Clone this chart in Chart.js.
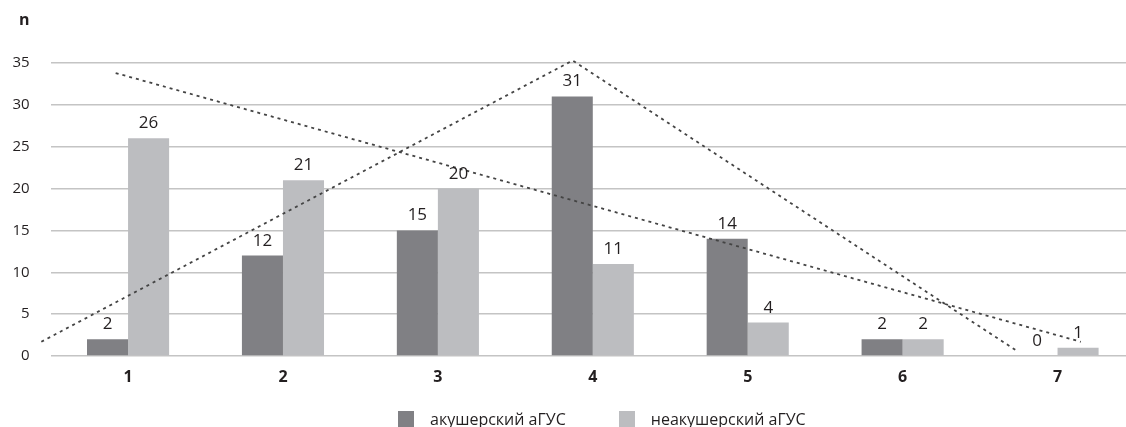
<!DOCTYPE html>
<html lang="ru">
<head>
  <meta charset="UTF-8">
  <title>аГУС</title>
  <script src="https://cdn.jsdelivr.net/npm/chart.js"></script>
  <style>
    html, body { margin: 0; padding: 0; overflow: hidden; background: #fff; }
    body { font-family: "Open Sans", sans-serif; color: #231f20; }
    .wrap { position: relative; width: 1140px; height: 427px; }
    .ylabel { position: absolute; left: 19px; top: 8px; font-weight: bold; font-size: 16px; }
    .legend { position: absolute; top: 411px; left: 398px; display: flex; font-size: 16px; line-height: 16px; }
    .legend span { display: flex; align-items: center; margin-right: 53px; }
    .legend i { display: inline-block; width: 16px; height: 16px; margin-right: 16px; }
  </style>
</head>
<body>
  <div class="wrap">
    <canvas id="chart" width="1140" height="427"></canvas>
    <div class="ylabel">n</div>
    <div class="legend" id="legend"></div>
  </div>

  <script>
    const categories = ['1', '2', '3', '4', '5', '6', '7'];
    const obstetric = [2, 12, 15, 31, 14, 2, 0];
    const nonObstetric = [26, 21, 20, 11, 4, 2, 1];
    const seriesNames = ['акушерский аГУС', 'неакушерский аГУС'];

    // dotted trend lines, x in category units (1 = first category)
    const trendObstX = [0.44, 3.87, 6.73];
    const trendObstY = [1.7, 35.3, 0.7];
    const trendNonX = [0.92, 7.15];
    const trendNonY = [33.8, 1.7];

    const darkGrey = '#808084';
    const lightGrey = '#bcbdc0';
    const ink = '#231f20';

    // numbers above the bars
    const valueLabels = {
      id: 'valueLabels',
      afterDatasetsDraw(chart) {
        const ctx = chart.ctx;
        ctx.save();
        ctx.font = '17px "Open Sans"';
        ctx.fillStyle = ink;
        ctx.textAlign = 'center';
        ctx.textBaseline = 'alphabetic';
        chart.data.datasets.forEach((ds, i) => {
          chart.getDatasetMeta(i).data.forEach((bar, j) => {
            ctx.fillText(String(ds.data[j]), bar.x, bar.y - 10);
          });
        });
        ctx.restore();
      }
    };

    // dotted lines, placed with the hidden linear x scale and the y scale
    const trendLines = {
      id: 'trendLines',
      afterDatasetsDraw(chart) {
        const xs = chart.scales.xl, ys = chart.scales.y, ctx = chart.ctx;
        ctx.save();
        ctx.strokeStyle = '#444';
        ctx.lineWidth = 1.8;
        ctx.setLineDash([3, 4]);
        [[trendObstX, trendObstY], [trendNonX, trendNonY]].forEach(([px, py]) => {
          ctx.beginPath();
          px.forEach((v, i) => {
            const X = xs.getPixelForValue(v), Y = ys.getPixelForValue(py[i]);
            if (i === 0) ctx.moveTo(X, Y); else ctx.lineTo(X, Y);
          });
          ctx.stroke();
        });
        ctx.restore();
      }
    };

    new Chart(document.getElementById('chart'), {
      type: 'bar',
      data: {
        labels: categories,
        datasets: [
          { label: seriesNames[0], data: obstetric, backgroundColor: darkGrey },
          { label: seriesNames[1], data: nonObstetric, backgroundColor: lightGrey }
        ]
      },
      options: {
        responsive: false,
        animation: false,
        categoryPercentage: 0.53,
        barPercentage: 1,
        layout: { padding: { left: 0, right: 5, top: 63, bottom: 0 } },
        plugins: { legend: { display: false }, tooltip: { enabled: false } },
        scales: {
          x: {
            grid: { display: false, drawTicks: false },
            border: { display: false },
            ticks: { color: ink, padding: 12, font: { family: 'Open Sans', size: 16, weight: 'bold' } },
            afterFit: s => { s.height = 71; }
          },
          xl: {
            type: 'linear',
            display: false,
            offset: false,
            min: 0.5,
            max: 7.5
          },
          y: {
            min: 0,
            max: 35,
            ticks: { stepSize: 5, color: ink, padding: 21, font: { family: 'Open Sans', size: 15 } },
            grid: { color: '#c4c4c4', lineWidth: 1.5, drawTicks: false },
            border: { display: false },
            afterFit: s => { s.width = 50.6; }
          }
        }
      },
      plugins: [trendLines, valueLabels]
    });

    const legend = document.getElementById('legend');
    [darkGrey, lightGrey].forEach((c, i) => {
      const item = document.createElement('span');
      item.innerHTML = '<i style="background:' + c + '"></i>' + seriesNames[i];
      legend.appendChild(item);
    });
  </script>
</body>
</html>
